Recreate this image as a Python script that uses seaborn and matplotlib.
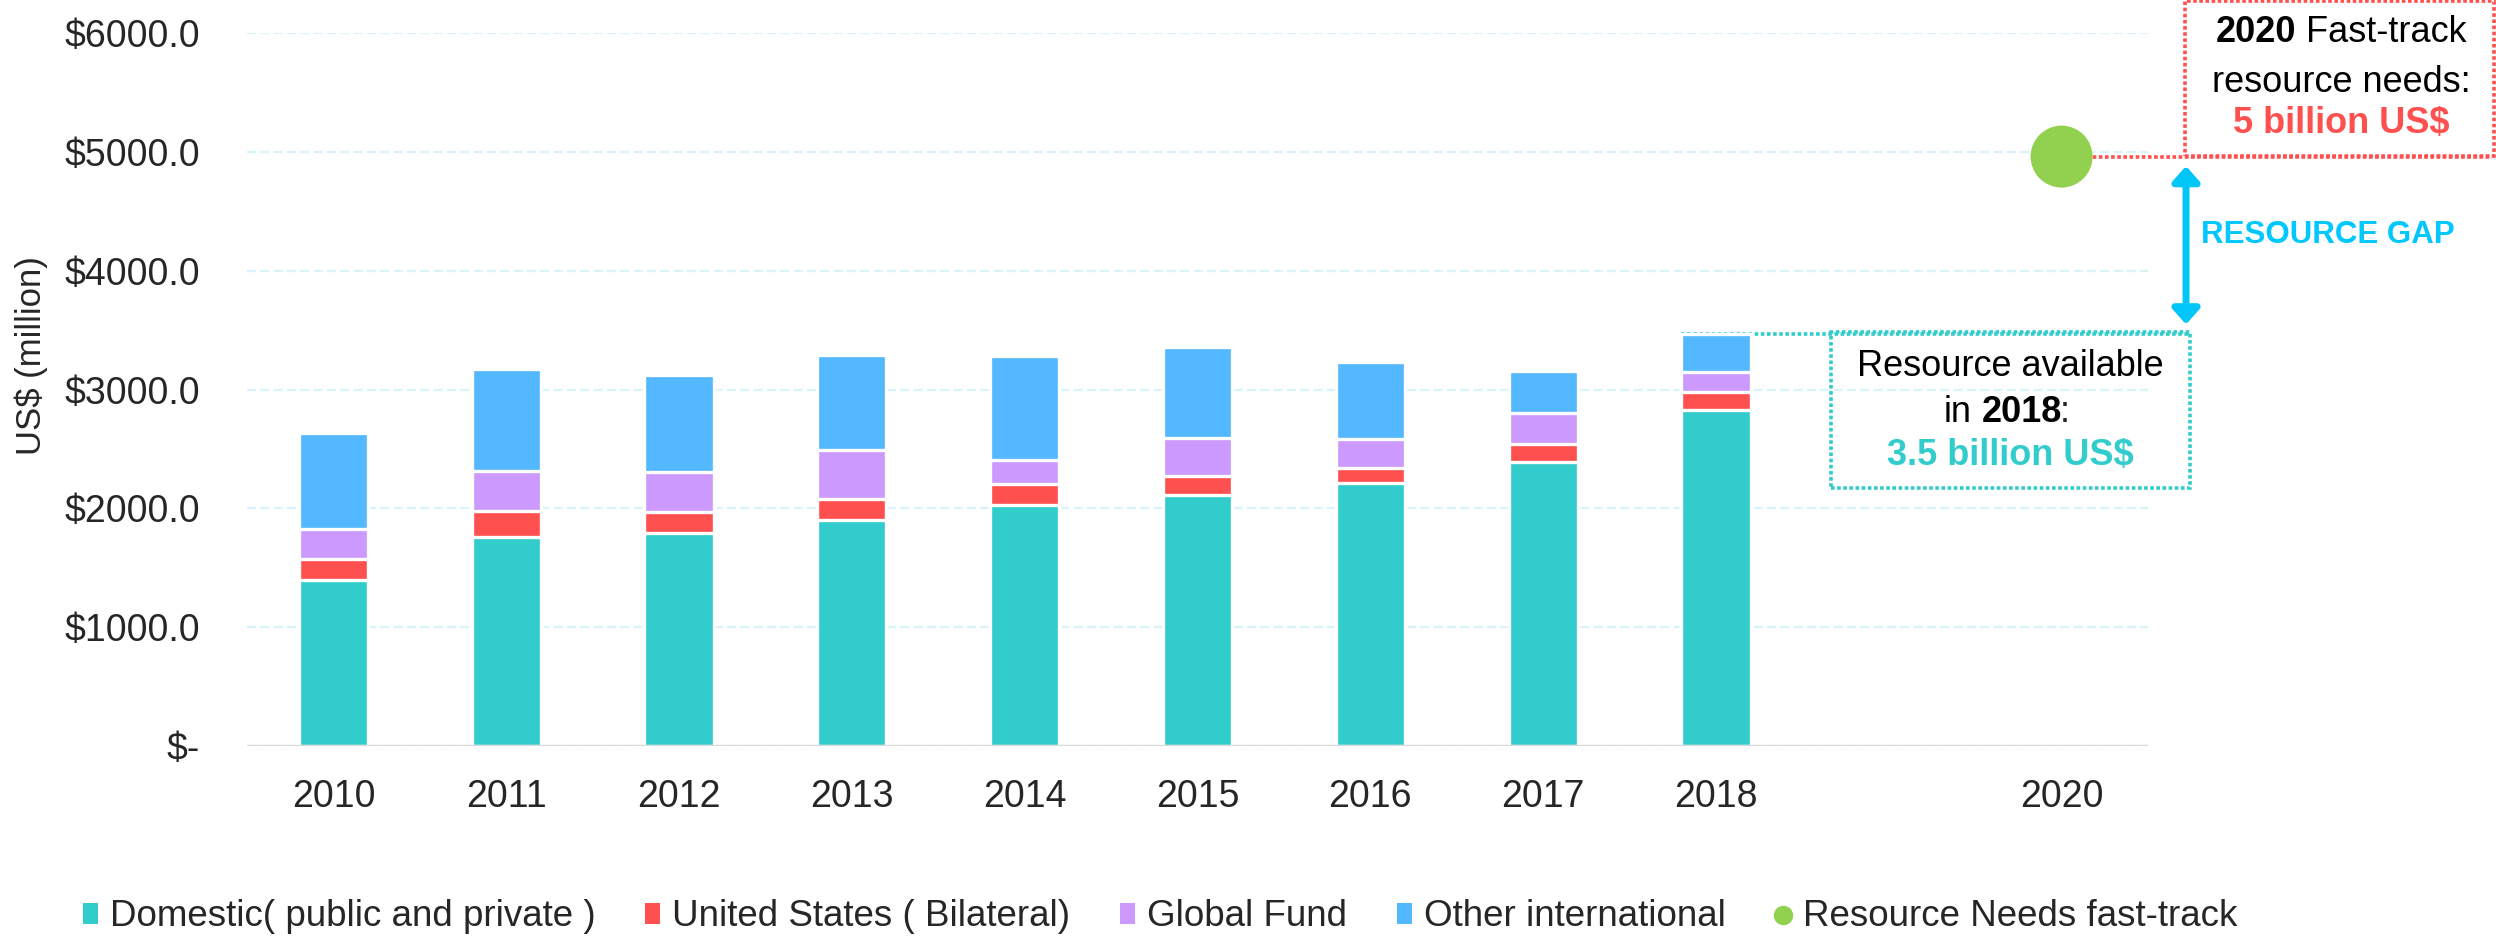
import pandas as pd
import matplotlib
matplotlib.use('Agg')
import matplotlib.pyplot as plt
import seaborn as sns
from matplotlib.patches import Rectangle, Patch
from matplotlib.lines import Line2D
from matplotlib.ticker import FuncFormatter

# dados (US$ milhões)
years = ['2010', '2011', '2012', '2013', '2014', '2015', '2016', '2017', '2018']
domestic = [1397, 1758, 1794, 1900, 2027, 2110, 2214, 2388, 2826]
us_bilateral = [177, 220, 176, 179, 176, 165, 129, 151, 157]
global_fund = [252, 337, 339, 413, 206, 314, 241, 264, 165]
other_intl = [805, 856, 811, 797, 871, 767, 648, 356, 320]

need_year = '2020'
need_value = 4960

x_order = years + ['2019', '2020']
x_ticklabels = years + ['', '2020']

series_names = ['Domestic( public and private )', 'United States ( Bilateral)',
                'Global Fund', 'Other international']
series_colors = ['#33CCCC', '#FF5050', '#CC99FF', '#53B8FF']
need_name = 'Resource Needs fast-track'
need_color = '#92D050'

W, H = 2496, 939

sns.set_style('white')
plt.rcParams['font.family'] = ['Liberation Sans', 'DejaVu Sans']

df = pd.DataFrame({'Year': years, 'Domestic': domestic, 'US': us_bilateral,
                   'GF': global_fund, 'Other': other_intl})
cols = ['Domestic', 'US', 'GF', 'Other']
cum = df[cols].cumsum(axis=1)

fig = plt.figure(figsize=(W / 100, H / 100), dpi=100)
ax = fig.add_axes([247 / W, 1 - 746 / H, (2148 - 247) / W, (746 - 33) / H])

# barras empilhadas: desenha do total para baixo
for col, color in reversed(list(zip(cols, series_colors))):
    sns.barplot(x=df['Year'], y=cum[col], order=x_order, color=color, width=0.4,
                edgecolor='white', linewidth=2.4, saturation=1, errorbar=None, ax=ax, zorder=3)

need_x = x_order.index(need_year)
ax.plot([need_x, 12.49], [need_value, need_value], color='#FF5050', lw=2.6,
        linestyle=(0, (1, 0.7)), clip_on=False, zorder=2)
sns.scatterplot(x=[need_x], y=[need_value], s=1990, color=need_color, edgecolor='none',
                ax=ax, zorder=5, clip_on=False)

ax.set_xlim(-0.5, 10.5)
ax.set_ylim(0, 6000)
ax.set_yticks(range(0, 6001, 1000))
ax.yaxis.set_major_formatter(FuncFormatter(lambda v, p: '$-' if v == 0 else f'${v:.1f}'))
ax.set_xticks(range(len(x_order)))
ax.set_xticklabels(x_ticklabels)
ax.tick_params(axis='y', length=0, pad=34, labelsize=27)
ax.tick_params(axis='x', length=0, pad=24, labelsize=27)
ax.set_xlabel('')
ax.set_ylabel('')
ax.grid(axis='y', color='#D8F3FA', linestyle=(0, (4, 2)), lw=1.6, zorder=0)
ax.axhline(0, color='#D9D9D9', lw=2.4, zorder=4)
for s in ax.spines.values():
    s.set_visible(False)
ax.set_facecolor('none')

fig.text(31 / W, 1 - 356 / H, 'US$ (million)', rotation=90, fontsize=25,
         ha='center', va='center')

# caixa vermelha (necessidade 2020)
fig.patches.append(Rectangle((2185 / W, 1 - 156 / H), (2494 - 2185) / W, 155 / H,
                             transform=fig.transFigure, fill=False, ec='#FF5050', lw=2.6,
                             linestyle=(0, (1, 0.7))))

# caixa verde-água (disponível 2018)
total_2018 = cum['Other'].iloc[-1]
x_2018 = years.index('2018')
ax.plot([x_2018 - 0.2, 10.73], [total_2018, total_2018], color='#33CCCC', lw=2.6,
        linestyle=(0, (1, 0.7)), clip_on=False, zorder=2)
fig.patches.append(Rectangle((1831 / W, 1 - 488 / H), (2190 - 1831) / W, (488 - 332) / H,
                             transform=fig.transFigure, fill=False, ec='#33CCCC', lw=2.6,
                             linestyle=(0, (1, 0.7))))

# seta do gap
ax.annotate('', xy=(10.72, need_value - 80), xytext=(10.72, total_2018 + 80),
            arrowprops=dict(arrowstyle='<|-|>,head_length=0.45,head_width=0.4',
                            color='#00C5F7', lw=5, mutation_scale=20, shrinkA=0, shrinkB=0),
            annotation_clip=False)
fig.text(2201 / W, 1 - 235 / H, 'RESOURCE GAP', fontsize=22.5, fontweight='bold',
         color='#00C8FF', ha='left', va='center')

renderer = fig.canvas.get_renderer()


def mixed_line(parts, cx, cy, size):
    texts = []
    for s, w, c in parts:
        texts.append(fig.text(0, 0, s, fontsize=size, fontweight=w, color=c,
                              ha='left', va='center'))
    widths = [t.get_window_extent(renderer).width for t in texts]
    gap = 0.278 * size * 100 / 72
    x = cx - (sum(widths) + gap * (len(widths) - 1)) / 2
    for t, w in zip(texts, widths):
        t.set_position((x / W, 1 - cy / H))
        x += w + gap


mixed_line([('2020', 'bold', 'black'), ('Fast-track', 'normal', 'black')], 2341, 33, 26)
mixed_line([('resource needs:', 'normal', 'black')], 2341, 82, 26)
mixed_line([('5 billion US$', 'bold', '#FF5050')], 2341, 123, 26)

mixed_line([('Resource available', 'normal', 'black')], 2010, 367, 26)
mixed_line([('in', 'normal', 'black'), ('2018', 'bold', 'black')], 2003, 412, 26)
fig.text(2060 / W, 1 - 412 / H, ':', fontsize=26, ha='left', va='center')
mixed_line([('3.5 billion US$', 'bold', '#33CCCC')], 2010, 455, 26)

handles = [Patch(facecolor=c, edgecolor='none') for c in series_colors]
handles.append(Line2D([], [], marker='o', linestyle='none', markersize=14,
                      markerfacecolor=need_color, markeredgecolor='none'))
fig.legend(handles, series_names + [need_name], loc='center', ncol=5,
           bbox_to_anchor=(1160 / W, 1 - 917 / H), frameon=False, fontsize=26.5,
           handlelength=0.4, handleheight=0.48, handletextpad=0.33, columnspacing=1.36)

plt.savefig('out.png', dpi=100)
